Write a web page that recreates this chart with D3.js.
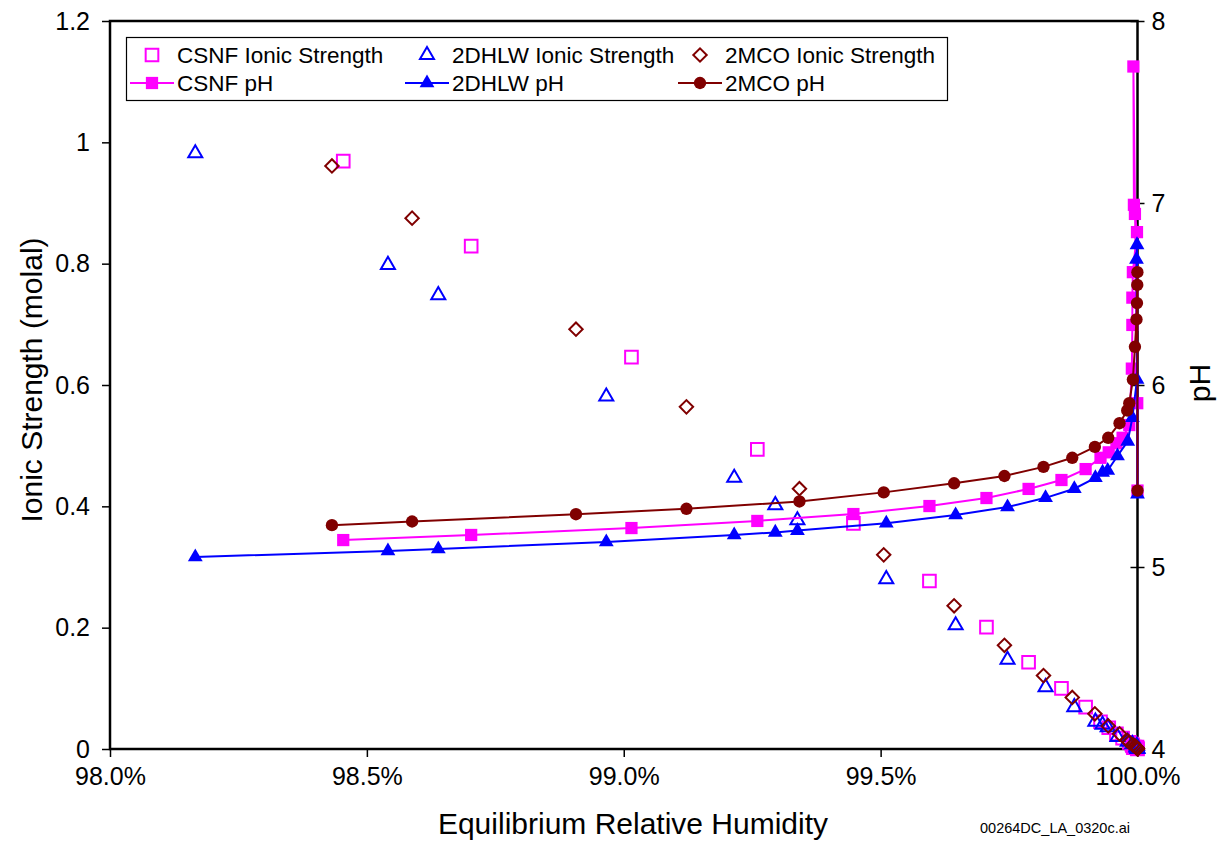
<!DOCTYPE html>
<html>
<head>
<meta charset="utf-8">
<script src="https://cdn.jsdelivr.net/npm/d3@7"></script>
<style>
  body { margin: 0; background: #fff; }
  svg { display: block; font-family: "Liberation Sans", Arial, sans-serif; }
</style>
</head>
<body>
<div id="chart"></div>
<script>
// RH (%), ionic strength (molal) and pH for each chemistry
const rhCSNF = [98.454, 98.703, 99.015, 99.260, 99.447, 99.595, 99.706, 99.788, 99.852, 99.899,
  99.928, 99.944, 99.959, 99.971, 99.984, 99.989, 99.990, 99.990, 99.991, 99.999, 99.995, 99.993, 99.992, 99.9995, 100.0];
const isCSNF = [0.969, 0.829, 0.646, 0.494, 0.372, 0.277, 0.201, 0.143, 0.100, 0.069,
  0.045, 0.035, 0.025, 0.018, 0.011, 0.008, 0.007, 0.006, 0.005, 0.003, 0.003, 0.002, 0.002, 0.001, 0.0];
const phCSNF = [5.148, 5.176, 5.214, 5.253, 5.291, 5.335, 5.379, 5.429, 5.478, 5.538,
  5.60, 5.63, 5.68, 5.71, 5.78, 6.09, 6.33, 6.48, 6.62, 6.84, 6.94, 6.99, 7.75, 5.90, 5.42];

const rh2DHLW = [98.166, 98.541, 98.639, 98.966, 99.215, 99.295, 99.338, 99.511, 99.646, 99.747,
  99.821, 99.877, 99.918, 99.932, 99.942, 99.961, 99.981, 99.990, 99.999, 99.998, 99.999, 100.0];
const is2DHLW = [0.982, 0.798, 0.748, 0.581, 0.447, 0.402, 0.377, 0.280, 0.204, 0.147,
  0.102, 0.069, 0.045, 0.040, 0.036, 0.020, 0.012, 0.008, 0.005, 0.003, 0.002, 0.0];
const ph2DHLW = [5.055, 5.088, 5.099, 5.137, 5.176, 5.19, 5.20, 5.24, 5.286, 5.33,
  5.38, 5.43, 5.49, 5.52, 5.53, 5.61, 5.69, 5.82, 6.03, 6.69, 6.77, 5.40];

const rh2MCO = [98.432, 98.588, 98.907, 99.122, 99.342, 99.506, 99.643, 99.741, 99.817, 99.873,
  99.917, 99.943, 99.965, 99.980, 99.984, 99.991, 99.995, 99.998, 99.999, 99.9995, 99.9998, 100.0];
const is2MCO = [0.961, 0.875, 0.692, 0.564, 0.429, 0.320, 0.236, 0.171, 0.121, 0.085,
  0.058, 0.038, 0.025, 0.014, 0.011, 0.007, 0.005, 0.003, 0.002, 0.001, 0.0005, 0.0];
const ph2MCO = [5.23, 5.25, 5.29, 5.32, 5.36, 5.41, 5.46, 5.50, 5.55, 5.60,
  5.66, 5.71, 5.79, 5.86, 5.90, 6.03, 6.21, 6.36, 6.45, 6.55, 6.62, 5.42];

const xTicks = [98.0, 98.5, 99.0, 99.5, 100.0];
const isTicks = [0, 0.2, 0.4, 0.6, 0.8, 1, 1.2];
const phTicks = [4, 5, 6, 7, 8];

const series = [
  { name: 'CSNF', color: '#ff00ff', rh: rhCSNF, is: isCSNF, ph: phCSNF, shape: 'square' },
  { name: '2DHLW', color: '#0000ff', rh: rh2DHLW, is: is2DHLW, ph: ph2DHLW, shape: 'triangle' },
  { name: '2MCO', color: '#800000', rh: rh2MCO, is: is2MCO, ph: ph2MCO, shape: 'circle' }
];

const margin = { top: 21, right: 84.5, bottom: 95, left: 110 };
const width = 1222 - margin.left - margin.right;
const height = 844 - margin.top - margin.bottom;

const svg = d3.select('#chart').append('svg')
  .attr('width', 1222)
  .attr('height', 844);

const g = svg.append('g').attr('transform', `translate(${margin.left},${margin.top})`);

const x = d3.scaleLinear().domain([98, 100]).range([0, width]);
const yIS = d3.scaleLinear().domain([0, 1.2]).range([height, 0]);
const yPH = d3.scaleLinear().domain([4, 8]).range([height, 0]);

// marker path generators
function openMarker(shape) {
  if (shape === 'square') return d3.symbol(d3.symbolSquare, 160)();
  if (shape === 'triangle') return d3.symbol(d3.symbolTriangle, 85)();
  return d3.symbol(d3.symbolSquare, 90)(); // rotated later -> diamond
}
function filledMarker(shape) {
  if (shape === 'square') return d3.symbol(d3.symbolSquare, 150)();
  if (shape === 'triangle') return d3.symbol(d3.symbolTriangle, 95)();
  return d3.symbol(d3.symbolCircle, 120)();
}

// axes
const xAxis = g.append('g')
  .attr('transform', `translate(0,${height})`)
  .call(d3.axisBottom(x).tickValues(xTicks).tickSize(8).tickPadding(10)
    .tickFormat((d) => d.toFixed(1) + '%'));

const yAxis = g.append('g')
  .call(d3.axisLeft(yIS).tickValues(isTicks).tickSize(8).tickPadding(12)
    .tickFormat((d) => d3.format('~g')(d)));

const yAxisR = g.append('g')
  .attr('transform', `translate(${width},0)`)
  .call(d3.axisRight(yPH).tickValues(phTicks).tickSize(7).tickPadding(7)
    .tickFormat((d) => d3.format('d')(d)));
yAxisR.selectAll('.tick line').attr('x1', -7);

[xAxis, yAxis, yAxisR].forEach((a) => {
  a.select('.domain').remove();
  a.selectAll('.tick line').attr('stroke', '#000').attr('stroke-width', 1.5);
  a.selectAll('.tick text').attr('font-size', 25).attr('fill', '#000')
    .attr('font-family', '"Liberation Sans", Arial, sans-serif');
});

// frame
g.append('rect')
  .attr('width', width)
  .attr('height', height)
  .attr('fill', 'none')
  .attr('stroke', '#000')
  .attr('stroke-width', 2.5);

// ionic strength markers (open)
series.forEach((s) => {
  const pts = s.rh.map((r, i) => [r, s.is[i]]);
  g.append('g').selectAll('path')
    .data(pts)
    .enter()
    .append('path')
    .attr('d', openMarker(s.shape))
    .attr('transform', (d) => `translate(${x(d[0])},${yIS(d[1])})` + (s.shape === 'circle' ? ' rotate(45)' : ''))
    .attr('fill', 'none')
    .attr('stroke', s.color)
    .attr('stroke-width', 2);
});

// pH lines with filled markers
const line = d3.line().x((d) => x(d[0])).y((d) => yPH(d[1]));
series.forEach((s) => {
  const pts = s.rh.map((r, i) => [r, s.ph[i]]);
  g.append('path')
    .datum(pts)
    .attr('d', line)
    .attr('fill', 'none')
    .attr('stroke', s.color)
    .attr('stroke-width', 2);
  g.append('g').selectAll('path')
    .data(pts)
    .enter()
    .append('path')
    .attr('d', filledMarker(s.shape))
    .attr('transform', (d) => `translate(${x(d[0])},${yPH(d[1])})`)
    .attr('fill', s.color);
});

// axis titles
svg.append('text')
  .attr('x', 633)
  .attr('y', 834)
  .attr('text-anchor', 'middle')
  .attr('font-size', 30)
  .text('Equilibrium Relative Humidity');

svg.append('text')
  .attr('transform', 'translate(42,380) rotate(-90)')
  .attr('text-anchor', 'middle')
  .attr('font-size', 30)
  .text('Ionic Strength (molal)');

svg.append('text')
  .attr('transform', 'translate(1210,383) rotate(-90)')
  .attr('text-anchor', 'middle')
  .attr('font-size', 30)
  .text('pH');

svg.append('text')
  .attr('x', 1130)
  .attr('y', 833)
  .attr('text-anchor', 'end')
  .attr('font-size', 14.5)
  .text('00264DC_LA_0320c.ai');

// legend
const legend = svg.append('g');
legend.append('rect')
  .attr('x', 126.5)
  .attr('y', 37.5)
  .attr('width', 821)
  .attr('height', 63)
  .attr('fill', '#fff')
  .attr('stroke', '#000')
  .attr('stroke-width', 1.2);

const legendCols = [152, 427, 700];
series.forEach((s, i) => {
  const cx = legendCols[i];
  // row 1: ionic strength
  legend.append('path')
    .attr('d', openMarker(s.shape))
    .attr('transform', `translate(${cx},55)` + (s.shape === 'circle' ? ' rotate(45)' : ''))
    .attr('fill', 'none')
    .attr('stroke', s.color)
    .attr('stroke-width', 2);
  legend.append('text')
    .attr('x', cx + 25)
    .attr('y', 63)
    .attr('font-size', 22.5)
    .text(`${s.name} Ionic Strength`);
  // row 2: pH
  legend.append('line')
    .attr('x1', cx - 22)
    .attr('x2', cx + 22)
    .attr('y1', 83)
    .attr('y2', 83)
    .attr('stroke', s.color)
    .attr('stroke-width', 2);
  legend.append('path')
    .attr('d', filledMarker(s.shape))
    .attr('transform', `translate(${cx},83)`)
    .attr('fill', s.color);
  legend.append('text')
    .attr('x', cx + 25)
    .attr('y', 91)
    .attr('font-size', 22.5)
    .text(`${s.name} pH`);
});
</script>
</body>
</html>
